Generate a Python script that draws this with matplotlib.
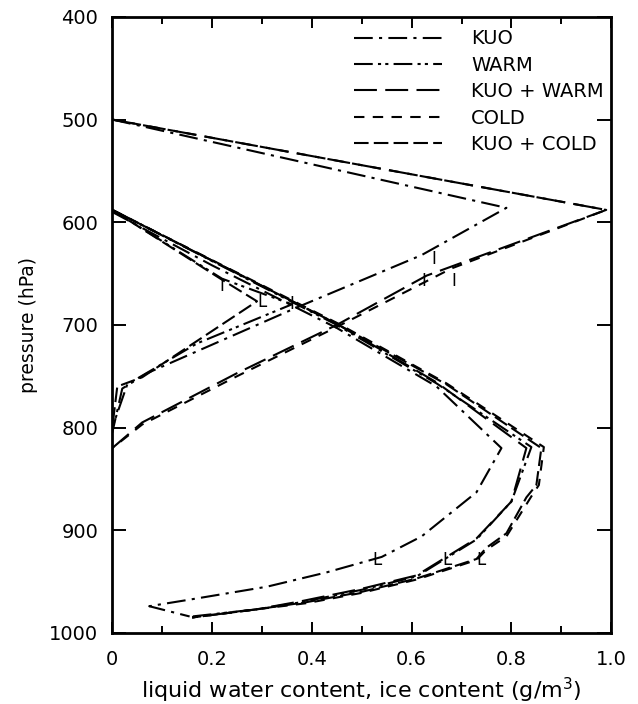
import matplotlib
matplotlib.use("Agg")
import matplotlib.pyplot as plt
from matplotlib.ticker import MultipleLocator, FixedLocator

plt.rcParams['font.family'] = ['DejaVu Sans']

# ice content profiles (upper curves), x in g/m3, p in hPa
kuo_ice_x = [0, 0.79, 0.62, 0.37, 0.07, 0.02, 0]
kuo_ice_p = [500, 586, 632, 683, 747, 762, 805]
warm_ice_x = [0, 0.22, 0.36, 0.17, 0.03, 0]
warm_ice_p = [588, 655, 680, 718, 758, 800]
kw_ice_x = [0, 0.99, 0.63, 0.45, 0.25, 0.06, 0]
kw_ice_p = [500, 588, 652, 700, 747, 795, 820]
cold_ice_x = [0, 0.99, 0.68, 0.45, 0.25, 0.06, 0]
cold_ice_p = [500, 588, 645, 702, 750, 797, 820]
kc_ice_x = [0, 0.22, 0.29, 0.06, 0.01, 0]
kc_ice_p = [588, 656, 677, 751, 760, 800]

# liquid water profiles (lower curves)
kuo_liq_x = [0, 0.20, 0.45, 0.65, 0.78, 0.73, 0.62, 0.54, 0.43, 0.31, 0.15, 0.074, 0.155]
kuo_liq_p = [590, 642, 703, 760, 820, 863, 906, 926, 941, 955, 968, 974, 984]
warm_liq_x = [0, 0.45, 0.65, 0.84, 0.80, 0.73, 0.67, 0.61, 0.50, 0.38, 0.29, 0.16]
warm_liq_p = [588, 700, 757, 819, 872, 909, 927, 945, 958, 970, 977, 984]
kw_liq_x = [0, 0.45, 0.65, 0.83, 0.80, 0.73, 0.67, 0.61, 0.50, 0.38, 0.29, 0.16]
kw_liq_p = [588, 699, 756, 820, 872, 908, 926, 944, 957, 969, 977, 985]
cold_liq_x = [0, 0.45, 0.67, 0.865, 0.855, 0.84, 0.79, 0.75, 0.73, 0.61, 0.50, 0.39, 0.29, 0.16]
cold_liq_p = [588, 698, 757, 819, 856, 867, 906, 919, 929, 948, 961, 971, 977, 985]
kc_liq_x = [0, 0.45, 0.67, 0.86, 0.85, 0.83, 0.79, 0.75, 0.73, 0.61, 0.50, 0.39, 0.29, 0.16]
kc_liq_p = [588, 699, 758, 820, 856, 868, 903, 917, 928, 947, 960, 970, 977, 985]

labels = ["KUO", "WARM", "KUO + WARM", "COLD", "KUO + COLD"]
dashes = [(9, 3, 1.5, 3), (9, 2.5, 1.5, 2, 1.5, 2.5), (11, 4), (5, 4), (7, 2.5)]

# curve markers: I = ice, L = liquid
mark_text = ["I", "L", "I", "I", "I", "I", "L", "L", "L"]
mark_x = [0.22, 0.30, 0.36, 0.645, 0.625, 0.685, 0.53, 0.67, 0.74]
mark_p = [662, 678, 680, 636, 657, 657, 929, 929, 929]

fig = plt.figure(figsize=(6.38, 7.04), dpi=100)
ax = fig.add_axes([0.176, 0.101, 0.782, 0.875])

ice = [(kuo_ice_x, kuo_ice_p), (warm_ice_x, warm_ice_p), (kw_ice_x, kw_ice_p),
       (cold_ice_x, cold_ice_p), (kc_ice_x, kc_ice_p)]
liq = [(kuo_liq_x, kuo_liq_p), (warm_liq_x, warm_liq_p), (kw_liq_x, kw_liq_p),
       (cold_liq_x, cold_liq_p), (kc_liq_x, kc_liq_p)]

for i in range(5):
    ax.plot(ice[i][0], ice[i][1], color='black', lw=1.5, dashes=dashes[i], label=labels[i])
    ax.plot(liq[i][0], liq[i][1], color='black', lw=1.5, dashes=dashes[i])

for t, x, p in zip(mark_text, mark_x, mark_p):
    ax.text(x, p, t, ha='center', va='center', fontsize=12)

ax.set_xlim(0, 1.0)
ax.set_ylim(1000, 400)
ax.xaxis.set_major_locator(FixedLocator([0, 0.2, 0.4, 0.6, 0.8, 1.0]))
ax.set_xticklabels(["0", "0.2", "0.4", "0.6", "0.8", "1.0"])
ax.xaxis.set_minor_locator(MultipleLocator(0.1))
ax.yaxis.set_major_locator(MultipleLocator(100))
ax.tick_params(which='both', direction='in', top=True, right=True, labelsize=14, width=1.4)
ax.tick_params(axis='x', which='major', length=8, pad=12)
ax.tick_params(axis='x', which='minor', length=5)
ax.tick_params(axis='y', which='major', length=10, pad=10)
for s in ax.spines.values():
    s.set_linewidth(2)

ax.set_xlabel("liquid water content, ice content (g/m$^3$)", fontsize=16, labelpad=5)
ax.set_ylabel("pressure (hPa)", fontsize=13.5, labelpad=8)

leg = ax.legend(loc='upper left', bbox_to_anchor=(0.45, 1.008), frameon=False,
                fontsize=14, handlelength=4.5, handletextpad=1.5, labelspacing=0.38)

fig.savefig("out.png", dpi=100)
